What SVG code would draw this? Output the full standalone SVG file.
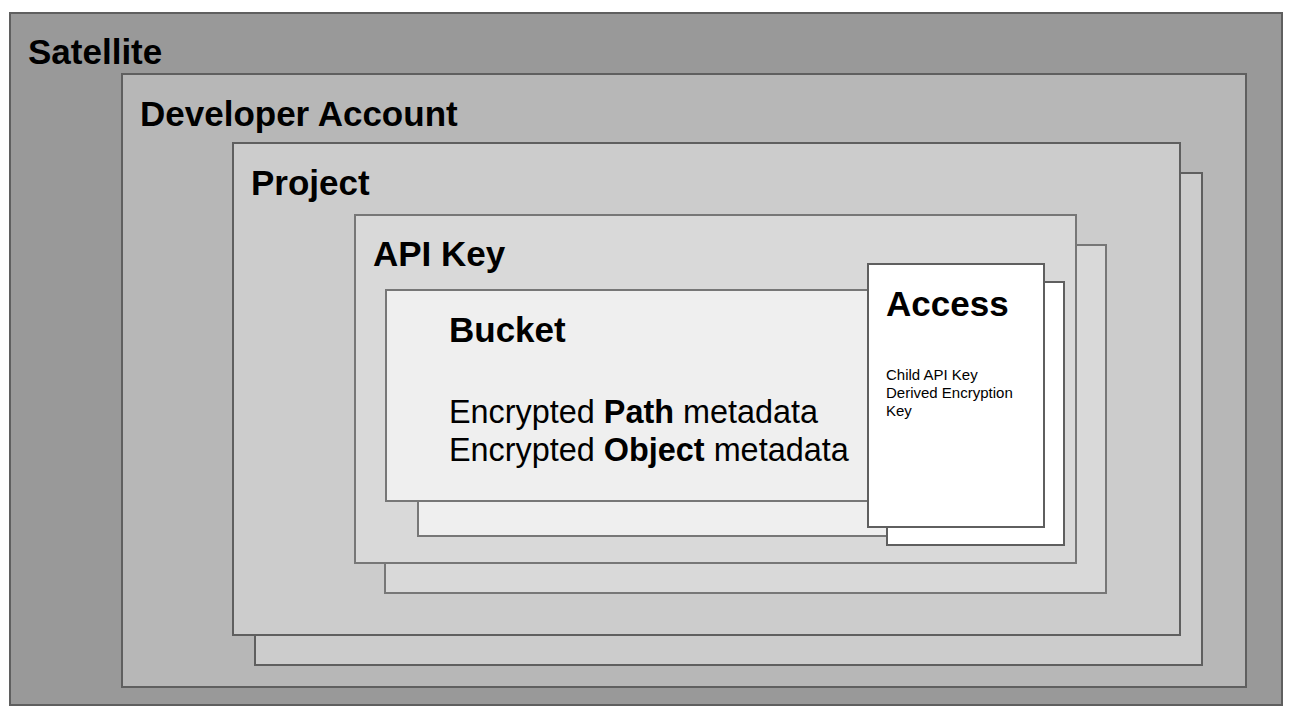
<svg xmlns="http://www.w3.org/2000/svg" width="1294" height="714" viewBox="0 0 1294 714">
<style>
.b{stroke:#5f5f5f;stroke-width:2}
.l{stroke:#777777;stroke-width:2}
.t{font-family:"Liberation Sans",Arial,sans-serif;font-weight:bold;font-size:35px;fill:#000}
.m{font-family:"Liberation Sans",Arial,sans-serif;font-size:32.4px;fill:#000}
.s{font-family:"Liberation Sans",Arial,sans-serif;font-size:15px;fill:#000}
</style>
<rect width="1294" height="714" fill="#ffffff"/>
<g id="satellite">
<rect class="b" x="10" y="13" width="1272" height="692" fill="#999999"/>
<text class="t" x="28" y="64">Satellite</text>
</g>
<g id="developer-account">
<rect class="b" x="122" y="74" width="1124" height="613" fill="#b7b7b7"/>
<text class="t" x="140" y="126">Developer Account</text>
</g>
<g id="project">
<rect class="b" x="255" y="173" width="947" height="492" fill="#cccccc"/>
<rect class="b" x="233" y="143" width="947" height="492" fill="#cccccc"/>
<text class="t" x="251" y="195">Project</text>
</g>
<g id="api-key">
<rect class="l" x="385" y="245" width="721" height="348" fill="#d9d9d9"/>
<rect class="l" x="355" y="215" width="721" height="348" fill="#d9d9d9"/>
<text class="t" x="373" y="266">API Key</text>
</g>
<g id="bucket">
<rect class="l" x="418" y="320" width="490" height="216" fill="#efefef"/>
<rect class="l" x="386" y="290" width="500" height="211" fill="#efefef"/>
<text class="t" x="449" y="342">Bucket</text>
<text class="m" x="449" y="423">Encrypted <tspan font-weight="bold">Path</tspan> metadata</text>
<text class="m" x="449" y="461">Encrypted <tspan font-weight="bold">Object</tspan> metadata</text>
</g>
<g id="access">
<rect class="b" x="887" y="282" width="177" height="263" fill="#ffffff"/>
<rect class="b" x="868" y="264" width="176" height="263" fill="#ffffff"/>
<text class="t" x="886" y="316">Access</text>
<text class="s" x="886" y="380">Child API Key</text>
<text class="s" x="886" y="398">Derived Encryption</text>
<text class="s" x="886" y="416">Key</text>
</g>
<g id="connectors"></g>
</svg>
